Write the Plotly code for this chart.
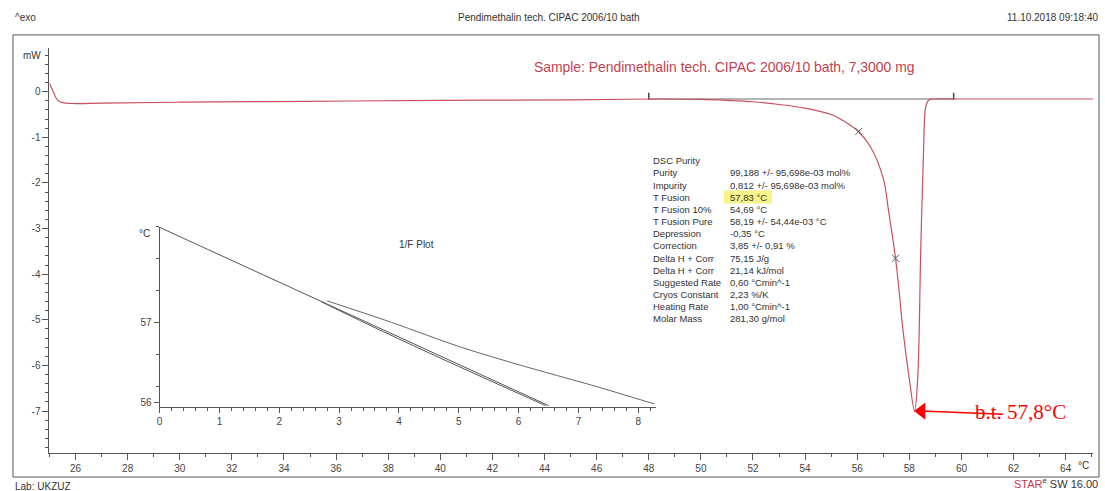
import plotly.graph_objects as go

W, H = 1105, 491

# ---------------- data ----------------
temp_c = [25.0, 25.15, 25.3, 25.5, 26.0, 27.0, 30.0, 35.0, 40.0, 45.0, 48.0, 50.0, 51.0, 52.0,
          53.0, 54.0, 55.0, 55.5, 56.0, 56.5, 57.0, 57.2, 57.47, 57.63, 57.75, 58.0, 58.2,
          58.32, 58.44, 58.55, 58.63, 58.75, 58.9, 60.0, 62.0, 64.0, 65.05]
heat_flow_mw = [0.18, 0.0, -0.18, -0.24, -0.26, -0.25, -0.23, -0.21, -0.19, -0.18, -0.16, -0.17,
                -0.19, -0.22, -0.28, -0.36, -0.5, -0.65, -0.85, -1.2, -1.9, -2.6, -3.65, -4.5,
                -5.2, -6.3, -7.0, -6.3, -3.4, -1.2, -0.33, -0.18, -0.16, -0.16, -0.16, -0.16, -0.16]

baseline_t = [48.0, 59.7]
baseline_mw = [-0.16, -0.16]
cross_t = [56.06, 57.47]
cross_mw = [-0.87, -3.65]

y_ticks = [0, -1, -2, -3, -4, -5, -6, -7]
y_tick_labels = ["0", "-1", "-2", "-3", "-4", "-5", "-6", "-7"]
x_ticks = list(range(26, 65, 2))

# 1/F plot
fit_inv_f = [0.0, 6.5]
fit_temp = [58.19, 55.96]
data_inv_f = [2.7, 3.5, 4.5, 5.5, 6.45]
data_temp = [57.26, 56.97, 56.62, 56.28, 55.96]
raw_inv_f = [2.8, 3.88, 5.0, 6.1, 7.2, 8.27]
raw_temp = [57.27, 57.0, 56.7, 56.45, 56.22, 55.98]
inset_y_ticks = [56, 57]

purity_labels = ["DSC Purity", "Purity", "Impurity", "T Fusion", "T Fusion 10%", "T Fusion Pure",
                 "Depression", "Correction", "Delta H + Corr", "Delta H + Corr", "Suggested Rate",
                 "Cryos Constant", "Heating Rate", "Molar Mass"]
purity_values = ["", "99,188 +/- 95,698e-03 mol%", "0,812 +/- 95,698e-03 mol%", "57,83 °C",
                 "54,69 °C", "58,19 +/- 54,44e-03 °C", "-0,35 °C", "3,85 +/- 0,91 %",
                 "75,15 J/g", "21,14 kJ/mol", "0,60 °Cmin^-1", "2,23 %/K", "1,00 °Cmin^-1",
                 "281,30 g/mol"]

peak_temp, peak_mw = 58.2, -7.0
arrow_tail_t, arrow_tail_mw = 61.6, -7.07
head_t = 58.47


def px(x):
    return x / W


def py(y):
    return 1 - y / H


FONT = "Liberation Sans"
RED = "#ff0000"
fig = go.Figure()

fig.add_trace(go.Scatter(x=baseline_t, y=baseline_mw, mode="lines",
                         line=dict(color="#6a6a6a", width=1.2), hoverinfo="skip"))
fig.add_trace(go.Scatter(x=baseline_t, y=[v + 0.06 for v in baseline_mw], mode="markers",
                         marker=dict(symbol="line-ns", size=5, line=dict(color="#444", width=1.5)),
                         hoverinfo="skip"))
fig.add_trace(go.Scatter(x=temp_c, y=heat_flow_mw, mode="lines", line_shape="spline",
                         line=dict(color="#c8505e", width=1.2)))
fig.add_trace(go.Scatter(x=cross_t, y=cross_mw, mode="markers",
                         marker=dict(symbol="x-thin", size=7, line=dict(color="#555", width=1))))

# red arrow
fig.add_trace(go.Scatter(x=[arrow_tail_t, head_t], y=[arrow_tail_mw, peak_mw], mode="lines",
                         line=dict(color=RED, width=1.5), hoverinfo="skip"))
fig.add_trace(go.Scatter(x=[head_t], y=[peak_mw], mode="markers",
                         marker=dict(symbol="triangle-left", size=15, color=RED,
                                     line=dict(width=0)), hoverinfo="skip"))

# inset traces
fig.add_trace(go.Scatter(x=fit_inv_f, y=fit_temp, mode="lines", xaxis="x2", yaxis="y2",
                         line=dict(color="#555", width=1)))
fig.add_trace(go.Scatter(x=data_inv_f, y=data_temp, mode="lines", xaxis="x2", yaxis="y2",
                         line_shape="spline", line=dict(color="#555", width=1)))
fig.add_trace(go.Scatter(x=raw_inv_f, y=raw_temp, mode="lines", xaxis="x2", yaxis="y2",
                         line_shape="spline", line=dict(color="#666", width=1)))

ann = []
small = dict(family=FONT, size=10, color="#333")
ann.append(dict(x=px(10), y=py(18), text="^exo", xanchor="left", font=small))
ann.append(dict(x=px(547), y=py(18), text="Pendimethalin tech. CIPAC 2006/10 bath", font=small))
ann.append(dict(x=px(1100), y=py(18), text="11.10.2018 09:18:40", xanchor="right", font=small))
ann.append(dict(x=px(10), y=py(487), text="Lab: UKZUZ", xanchor="left", font=small))
ann.append(dict(x=px(1100), y=py(484),
                text="<span style='color:#c8384a'>STAR</span><sup>e</sup> SW 16.00",
                xanchor="right", font=dict(family=FONT, size=11, color="#333")))
ann.append(dict(x=px(530), y=py(67),
                text="Sample: Pendimethalin tech. CIPAC 2006/10 bath, 7,3000 mg",
                xanchor="left", font=dict(family=FONT, size=13.9, color="#c33f4f")))
ann.append(dict(x=px(40), y=py(56), text="mW", xanchor="right", font=small))
ann.append(dict(x=px(1076), y=py(466), text="°C", xanchor="left", font=small))

for i, (lab, val) in enumerate(zip(purity_labels, purity_values)):
    yy = 161 + i * 12.2
    ann.append(dict(x=px(650), y=py(yy), text=lab, xanchor="left",
                    font=dict(family=FONT, size=9.5, color="#333")))
    if val:
        ann.append(dict(x=px(727), y=py(yy), text=val, xanchor="left",
                        font=dict(family=FONT, size=9.5, color="#333")))

ann.append(dict(x=px(149), y=py(234), text="°C", xanchor="right", font=small))
ann.append(dict(x=px(415), y=py(245), text="1/F Plot", font=small))

ann.append(dict(x=px(973), y=py(413), text="b.t. 57,8°C", xanchor="left",
                font=dict(family="Liberation Serif", size=21, color=RED)))
for a in ann:
    a.setdefault("xref", "paper")
    a.setdefault("yref", "paper")
    a.setdefault("showarrow", False)
    a.setdefault("yanchor", "middle")

shapes = [
    dict(type="rect", xref="paper", yref="paper", x0=px(10), x1=px(1099), y0=py(478), y1=py(35),
         line=dict(color="#555", width=1)),
    dict(type="rect", xref="paper", yref="paper", x0=px(723), x1=px(771), y0=py(204), y1=py(191),
         fillcolor="#f4f06a", opacity=0.8, line=dict(width=0), layer="below"),
]

axcommon = dict(showgrid=False, zeroline=False, showline=True, linecolor="#555", linewidth=1,
                ticks="outside", tickcolor="#555", tickfont=dict(family=FONT, size=10, color="#444"))

fig.update_layout(
    width=W, height=H, margin=dict(l=0, r=0, t=0, b=0),
    paper_bgcolor="white", plot_bgcolor="white", showlegend=False,
    annotations=ann, shapes=shapes,
    xaxis=dict(domain=[px(46.6), px(1093)], range=[25, 65.05], tickmode="array",
               tickvals=x_ticks, ticktext=[str(v) for v in x_ticks], ticklen=6,
               minor=dict(ticks="outside", tickmode="linear", dtick=1, tick0=25, ticklen=3,
                          tickcolor="#555"), **axcommon),
    yaxis=dict(domain=[py(454), py(48)], range=[-7.92, 0.96], tickmode="array",
               tickvals=y_ticks, ticktext=y_tick_labels, ticklen=6,
               minor=dict(ticks="outside", tickmode="linear", dtick=0.2, tick0=0, ticklen=3,
                          tickcolor="#555"), **axcommon),
    xaxis2=dict(domain=[px(157), px(655)], range=[0, 8.3], anchor="y2", tickmode="linear",
                tick0=0, dtick=1, ticklen=5,
                minor=dict(ticks="outside", dtick=0.2, tick0=0, ticklen=3, tickcolor="#555"),
                **axcommon),
    yaxis2=dict(domain=[py(408), py(227)], range=[55.94, 58.2], anchor="x2", tickmode="array",
                tickvals=inset_y_ticks, ticktext=[str(v) for v in inset_y_ticks], ticklen=5,
                minor=dict(ticks="outside", tickmode="linear", dtick=0.4, tick0=57, ticklen=3,
                           tickcolor="#555"),
                **axcommon),
)

fig.write_html("out.html")
